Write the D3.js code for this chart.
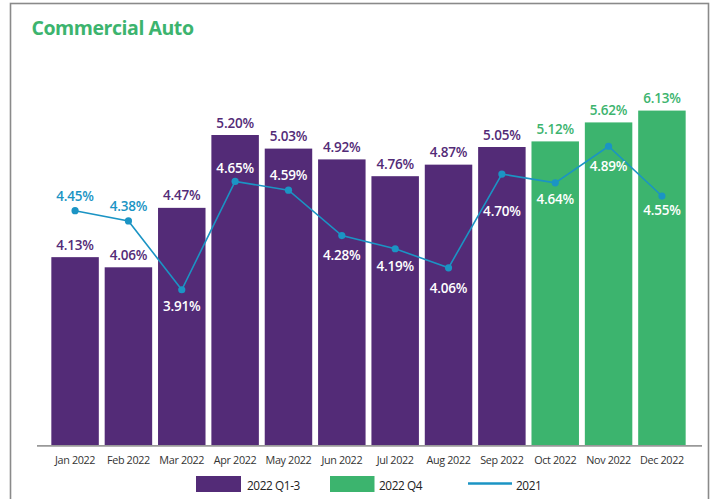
<!DOCTYPE html>
<html>
<head>
<meta charset="utf-8">
<script src="https://cdn.jsdelivr.net/npm/d3@7"></script>
<style>
  html, body { margin: 0; padding: 0; background: #fff; }
  svg { display: block; font-family: "Open Sans", "Liberation Sans", sans-serif; }
</style>
</head>
<body>
<svg id="chart" width="713" height="499"></svg>
<script>
// ---- data ----
const months = ["Jan 2022","Feb 2022","Mar 2022","Apr 2022","May 2022","Jun 2022",
                "Jul 2022","Aug 2022","Sep 2022","Oct 2022","Nov 2022","Dec 2022"];
const values2022 = [4.13, 4.06, 4.47, 5.20, 5.03, 4.92, 4.76, 4.87, 5.05, 5.12, 5.62, 6.13];
const values2021 = [4.45, 4.38, 3.91, 4.65, 4.59, 4.28, 4.19, 4.06, 4.70, 4.64, 4.89, 4.55];
const quarterGroup = ["Q1-3","Q1-3","Q1-3","Q1-3","Q1-3","Q1-3","Q1-3","Q1-3","Q1-3","Q4","Q4","Q4"];
const legendLabels = ["2022 Q1-3", "2022 Q4", "2021"];
const title = "Commercial Auto";

// ---- layout / style (not data) ----
const purple = "#532b77", green = "#3cb46e", blue = "#1b94c4";
const lineLabelDy = [-10, -10, 21, -8, -10, 24, 22, 25, 42, 21, 25, 19];
const baseY = 445;

const svg = d3.select("#chart");

// frame
svg.append("rect").attr("x", 10.5).attr("y", 3.5).attr("width", 698).attr("height", 520)
  .attr("fill", "none").attr("stroke", "#8a8a8a").attr("stroke-width", 1.6);

// title
svg.append("text").attr("x", 31.5).attr("y", 35).text(title)
  .attr("fill", green).attr("font-size", 19.5).attr("font-weight", 700)
  .attr("letter-spacing", -0.45);

// scales
const x = d3.scaleBand().domain(months).range([48.4, 688.6])
  .paddingInner(0.11).paddingOuter(0.055);
// bar axis (compressed above 5%)
const yBar = d3.scaleLinear().domain([0, 4, 4.5, 5, 5.25, 6.5])
  .range([baseY, 276, 203.5, 151, 131, 102]);
// 2021 line axis (secondary, hidden)
const yLine = d3.scaleLinear().domain([2.85, 5.67]).range([baseY, 32]);

const color = g => g === "Q4" ? green : purple;

// bars
svg.append("g").selectAll("rect").data(months).join("rect")
  .attr("x", d => x(d))
  .attr("width", x.bandwidth())
  .attr("y", (d, i) => yBar(values2022[i]))
  .attr("height", (d, i) => baseY - yBar(values2022[i]))
  .attr("fill", (d, i) => color(quarterGroup[i]));

// bar labels
svg.append("g").selectAll("text").data(months).join("text")
  .attr("x", d => x(d) + x.bandwidth() / 2)
  .attr("y", (d, i) => yBar(values2022[i]) - 7.5)
  .attr("text-anchor", "middle")
  .attr("font-size", 13.5).attr("font-weight", 600)
  .attr("letter-spacing", -0.2)
  .attr("fill", (d, i) => color(quarterGroup[i]))
  .text((d, i) => values2022[i].toFixed(2) + "%");

// x axis
const xAxis = d3.axisBottom(x).tickSize(0).tickPadding(11);
const ax = svg.append("g").attr("transform", `translate(0,${baseY})`).call(xAxis);
ax.select(".domain").remove();
ax.selectAll("text").attr("font-size", 10.8).attr("fill", "#333")
  .attr("font-family", "'Open Sans', sans-serif").attr("letter-spacing", -0.35);
svg.append("line").attr("x1", 37).attr("x2", 702).attr("y1", baseY + 0.8).attr("y2", baseY + 0.8)
  .attr("stroke", "#999").attr("stroke-width", 1.8);

// 2021 line
const line = d3.line()
  .x((d, i) => x(months[i]) + x.bandwidth() / 2)
  .y(d => yLine(d));
svg.append("path").datum(values2021).attr("d", line)
  .attr("fill", "none").attr("stroke", blue).attr("stroke-width", 1.6);
svg.append("g").selectAll("circle").data(values2021).join("circle")
  .attr("cx", (d, i) => x(months[i]) + x.bandwidth() / 2)
  .attr("cy", d => yLine(d))
  .attr("r", 3.6).attr("fill", blue);

// line labels
svg.append("g").selectAll("text").data(values2021).join("text")
  .attr("x", (d, i) => x(months[i]) + x.bandwidth() / 2)
  .attr("y", (d, i) => yLine(d) + lineLabelDy[i])
  .attr("text-anchor", "middle")
  .attr("font-size", 13.5).attr("font-weight", 600)
  .attr("letter-spacing", -0.2)
  .attr("fill", (d, i) => (yLine(d) + lineLabelDy[i] - 12 > yBar(values2022[i])) ? "#fff" : blue)
  .text(d => d.toFixed(2) + "%");

// legend
const lg = svg.append("g");
lg.append("rect").attr("x", 196).attr("y", 476).attr("width", 45).attr("height", 16).attr("fill", purple);
lg.append("text").attr("x", 247).attr("y", 489.5).text(legendLabels[0]);
lg.append("rect").attr("x", 330).attr("y", 476).attr("width", 44.5).attr("height", 16).attr("fill", green);
lg.append("text").attr("x", 379).attr("y", 489.5).text(legendLabels[1]);
lg.append("line").attr("x1", 468).attr("x2", 512).attr("y1", 483.5).attr("y2", 483.5)
  .attr("stroke", blue).attr("stroke-width", 2.5);
lg.append("text").attr("x", 516).attr("y", 489.5).text(legendLabels[2]);
lg.selectAll("text").attr("font-size", 11.8).attr("fill", "#222").attr("letter-spacing", -0.4);
</script>
</body>
</html>
